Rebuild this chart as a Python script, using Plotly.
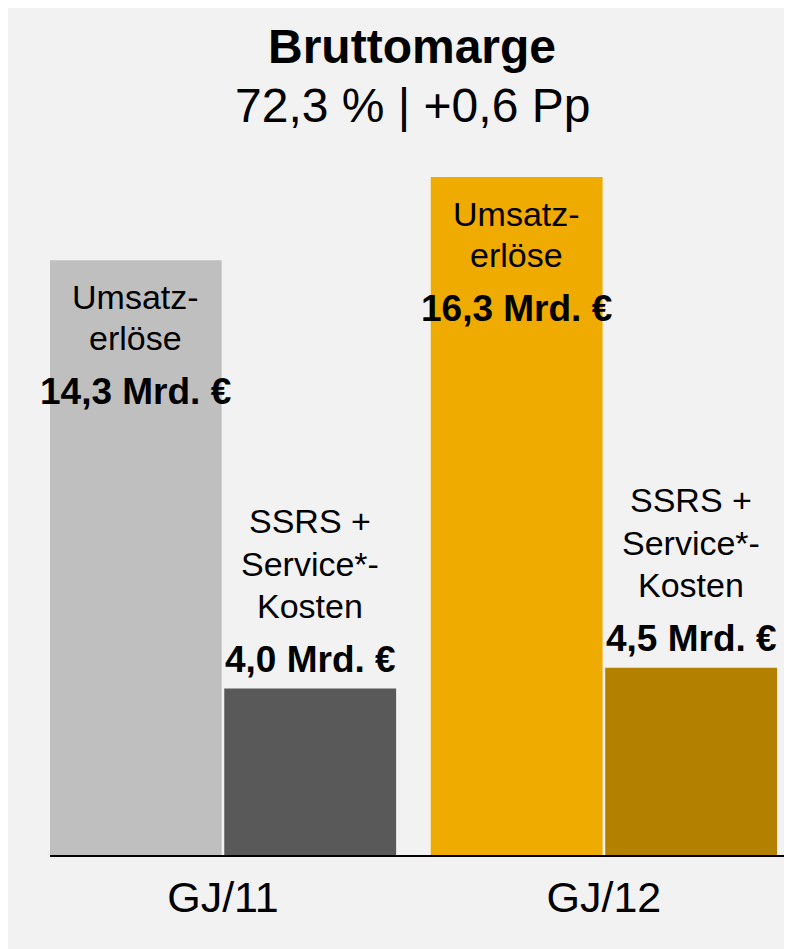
import plotly.graph_objects as go

categories = ["GJ/11", "GJ/12"]
umsatz = [14.3, 16.3]
kosten = [4.0, 4.5]
umsatz_colors = ["#bfbfbf", "#f0ab00"]
kosten_colors = ["#595959", "#b38000"]
umsatz_label = ["Umsatz-", "erlöse"]
kosten_label = ["SSRS +", "Service*-", "Kosten"]
title_line1 = "Bruttomarge"
title_line2 = "72,3 % | +0,6 Pp"

FONT = "Liberation Sans, Arial, sans-serif"
W, H = 792, 949
L, R, T, B = 42, 14, 169, 102
BARGAP = 0.084
XR = [-0.454, 1.478]

fig = go.Figure()
fig.add_trace(go.Bar(x=categories, y=umsatz, marker=dict(color=umsatz_colors, line_width=0),
                     name="Umsatzerlöse", hoverinfo="skip"))
fig.add_trace(go.Bar(x=categories, y=kosten, marker=dict(color=kosten_colors, line_width=0),
                     name="SSRS + Service*-Kosten", hoverinfo="skip"))

plot_w = W - L - R
plot_h = H - T - B
cat_px = plot_w / (XR[1] - XR[0])
half_slot = cat_px * (1 - BARGAP) / 4

def fmt(v):
    return f"{v:.1f}".replace(".", ",") + " Mrd. €"

def py(pix):
    # figure pixel row -> paper y
    return (H - B - pix) / plot_h

ann = []
for i, c in enumerate(categories):
    for line, dy in zip(umsatz_label, [-37, -78]):
        ann.append(dict(x=c, y=umsatz[i], xref="x", yref="y", text=line, showarrow=False,
                        xshift=-half_slot, yshift=dy, yanchor="middle",
                        font=dict(family=FONT, size=34, color="black")))
    ann.append(dict(x=c, y=umsatz[i], xref="x", yref="y", text="<b>" + fmt(umsatz[i]) + "</b>",
                    showarrow=False, xshift=-half_slot, yshift=-131, yanchor="middle",
                    font=dict(family=FONT, size=37, color="black")))
    for line, dy in zip(kosten_label, [168, 125, 83]):
        ann.append(dict(x=c, y=kosten[i], xref="x", yref="y", text=line, showarrow=False,
                        xshift=half_slot, yshift=dy, yanchor="middle",
                        font=dict(family=FONT, size=34, color="black")))
    ann.append(dict(x=c, y=kosten[i], xref="x", yref="y", text="<b>" + fmt(kosten[i]) + "</b>",
                    showarrow=False, xshift=half_slot, yshift=29, yanchor="middle",
                    font=dict(family=FONT, size=37, color="black")))

tx = (404 - L) / plot_w
ann.append(dict(x=tx, y=py(38), xref="paper", yref="paper", text=f"<b>{title_line1}</b>",
                showarrow=False, xanchor="center", yanchor="middle",
                font=dict(family=FONT, size=48, color="black")))
ann.append(dict(x=tx, y=py(97), xref="paper", yref="paper", text=title_line2,
                showarrow=False, xanchor="center", yanchor="middle",
                font=dict(family=FONT, size=48, color="black")))

fig.update_layout(
    width=W, height=H,
    margin=dict(l=L, r=R, t=T, b=B, pad=0),
    paper_bgcolor="#f2f2f2",
    plot_bgcolor="#f2f2f2",
    barmode="group", bargap=BARGAP, bargroupgap=0.015,
    showlegend=False,
    annotations=ann,
    xaxis=dict(range=XR, showline=True, linecolor="black", linewidth=2, showgrid=False,
               ticks="", zeroline=False, ticklabelstandoff=3,
               tickfont=dict(family=FONT, size=43, color="black")),
    yaxis=dict(range=[0, 16.3], visible=False, showgrid=False, zeroline=False),
)

fig.write_html("out.html")
